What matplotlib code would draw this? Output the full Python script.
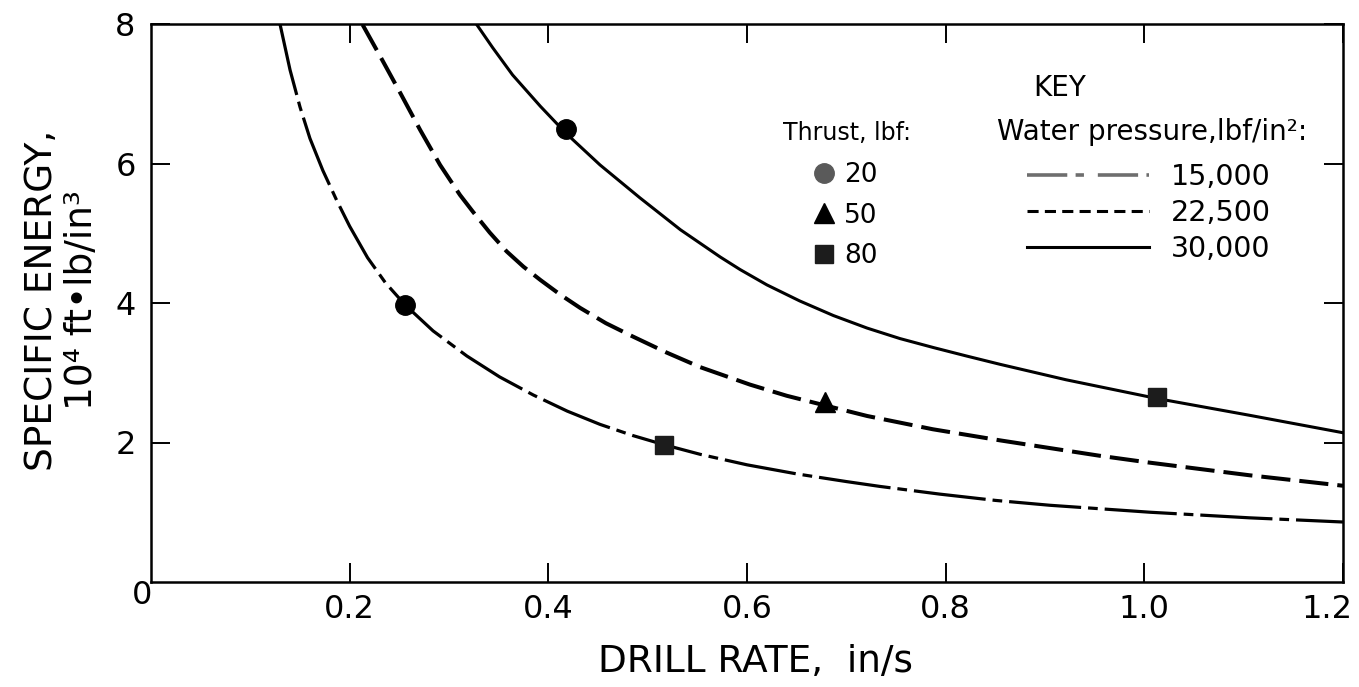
#!/usr/bin/env python3
"""Specific energy vs drill rate for three water-jet pressures, with the
thrust settings marked on the curves. Writes out.png."""

import matplotlib
matplotlib.use("Agg")
import matplotlib.pyplot as plt
from matplotlib.lines import Line2D
from matplotlib.transforms import ScaledTranslation

# 15,000 lbf/in^2 curve (dash-dot)
RATE_15K = [0.130, 0.140, 0.150, 0.160, 0.173, 0.187, 0.200, 0.218, 0.236, 0.256,
            0.284, 0.318, 0.351, 0.385, 0.419, 0.452, 0.485, 0.516, 0.553, 0.600,
            0.650, 0.700, 0.734, 0.794, 0.850, 0.905, 1.006, 1.106, 1.200]
ENERGY_15K = [7.99, 7.34, 6.81, 6.36, 5.90, 5.47, 5.10, 4.65, 4.29, 3.97,
              3.60, 3.24, 2.94, 2.68, 2.45, 2.26, 2.10, 1.97, 1.83, 1.68,
              1.55, 1.44, 1.37, 1.26, 1.17, 1.10, 1.00, 0.92, 0.86]

# 22,500 lbf/in^2 curve (dashed)
RATE_22K = [0.213, 0.231, 0.251, 0.271, 0.291, 0.311, 0.324, 0.341, 0.358, 0.375,
            0.392, 0.412, 0.432, 0.458, 0.485, 0.519, 0.553, 0.603, 0.640, 0.679,
            0.721, 0.787, 0.855, 0.905, 0.955, 1.006, 1.106, 1.200]
ENERGY_22K = [7.99, 7.53, 7.01, 6.48, 5.98, 5.55, 5.31, 5.01, 4.74, 4.52,
              4.33, 4.12, 3.93, 3.71, 3.52, 3.29, 3.08, 2.83, 2.67, 2.53,
              2.38, 2.19, 2.03, 1.92, 1.81, 1.71, 1.53, 1.38]

# 30,000 lbf/in^2 curve (solid)
RATE_30K = [0.328, 0.344, 0.364, 0.392, 0.418, 0.452, 0.492, 0.533, 0.573, 0.593,
            0.620, 0.653, 0.687, 0.721, 0.754, 0.788, 0.821, 0.855, 0.888, 0.921,
            0.955, 1.013, 1.106, 1.200]
ENERGY_30K = [7.99, 7.66, 7.27, 6.82, 6.43, 5.98, 5.51, 5.05, 4.66, 4.48,
              4.26, 4.03, 3.82, 3.64, 3.49, 3.36, 3.24, 3.12, 3.01, 2.90,
              2.80, 2.63, 2.39, 2.14]

# thrust test points
THRUST_20_RATE = [0.256, 0.418]
THRUST_20_ENERGY = [3.97, 6.50]
THRUST_50_RATE = [0.679]
THRUST_50_ENERGY = [2.58]
THRUST_80_RATE = [0.516, 1.013]
THRUST_80_ENERGY = [1.97, 2.65]

PRESSURE_LABELS = ["15,000", "22,500", "30,000"]
THRUST_LABELS = ["20", "50", "80"]
XTICKS = [0.2, 0.4, 0.6, 0.8, 1.0, 1.2]
XTICKLABELS = ["0.2", "0.4", "0.6", "0.8", "1.0", "1.2"]
YTICKS = [2, 4, 6, 8]

W, H = 1359, 687


def fx(px):
    return px / W


def fy(py):
    return 1 - py / H


def main():
    plt.rcParams["font.family"] = ["DejaVu Sans"]
    plt.rcParams["lines.scale_dashes"] = False

    fig = plt.figure(figsize=(W / 100, H / 100), dpi=100)
    ax = fig.add_axes([fx(151), fy(582), fx(1343 - 151), (582 - 24) / H])
    ax.set_xlim(0, 1.2)
    ax.set_ylim(0, 8)

    ax.plot(RATE_15K, ENERGY_15K, color="black", lw=2.3, dashes=(52, 5, 7, 5),
            dash_capstyle="butt")
    ax.plot(RATE_22K, ENERGY_22K, color="black", lw=2.9, dashes=(21, 6.5),
            dash_capstyle="butt")
    ax.plot(RATE_30K, ENERGY_30K, color="black", lw=2.2)

    ax.plot(THRUST_20_RATE, THRUST_20_ENERGY, "o", color="black", ms=14, zorder=5)
    ax.plot(THRUST_50_RATE, THRUST_50_ENERGY, "^", color="black", ms=15, zorder=5)
    ax.plot(THRUST_80_RATE, THRUST_80_ENERGY, "s", color="#1c1c1c", ms=13, zorder=5)

    for s in ax.spines.values():
        s.set_linewidth(1.8)
    ax.set_xticks(XTICKS)
    ax.set_xticklabels(XTICKLABELS)
    ax.set_yticks(YTICKS)
    ax.tick_params(direction="in", length=14, width=1.4, top=True, right=True,
                   labelsize=23, pad=9)
    ax.tick_params(axis="y", pad=11)
    # last x label sits against the right edge
    last = ax.get_xticklabels()[-1]
    last.set_horizontalalignment("right")
    last.set_transform(last.get_transform() + ScaledTranslation(10 / 100, 0, fig.dpi_scale_trans))
    fig.text(fx(142), fy(596), "0", fontsize=23, ha="center", va="center")

    fig.text(fx(755), fy(662), "DRILL RATE,  in/s", fontsize=27,
             ha="center", va="center")
    fig.text(fx(62), fy(300), "SPECIFIC ENERGY,\n10\u2074 ft\u2022lb/in\u00b3",
             fontsize=27, rotation=90, ha="center", va="center",
             multialignment="center", linespacing=1.15)

    # key
    fig.text(fx(1060), fy(88), "KEY", fontsize=20, ha="center", va="center")
    fig.text(fx(783), fy(140), "Thrust, lbf:", fontsize=17, ha="left", va="baseline")
    fig.text(fx(997), fy(140), "Water pressure,lbf/in\u00b2:", fontsize=20,
             ha="left", va="baseline")

    thrust_handles = [
        Line2D([], [], ls="none", marker="o", ms=14, color="#5a5a5a"),
        Line2D([], [], ls="none", marker="^", ms=14, color="black"),
        Line2D([], [], ls="none", marker="s", ms=13, color="#1c1c1c"),
    ]
    leg1 = ax.legend(thrust_handles, THRUST_LABELS, loc="upper left",
                     bbox_to_anchor=(fx(811), fy(162)), bbox_transform=fig.transFigure,
                     frameon=False, fontsize=19, handlelength=1.0, handletextpad=0.25,
                     labelspacing=0.55, borderpad=0, borderaxespad=0)
    ax.add_artist(leg1)

    pressure_handles = [
        Line2D([], [], color="#6e6e6e", lw=2.6, dashes=(29, 6, 6, 10)),
        Line2D([], [], color="black", lw=2.2, dashes=(8, 4.5)),
        Line2D([], [], color="black", lw=2.2),
    ]
    ax.legend(pressure_handles, PRESSURE_LABELS, loc="upper left",
              bbox_to_anchor=(fx(1027), fy(163)), bbox_transform=fig.transFigure,
              frameon=False, fontsize=20.5, handlelength=4.3, handletextpad=0.75,
              labelspacing=0.28, borderpad=0, borderaxespad=0)

    fig.savefig("out.png", dpi=100)


if __name__ == "__main__":
    main()
